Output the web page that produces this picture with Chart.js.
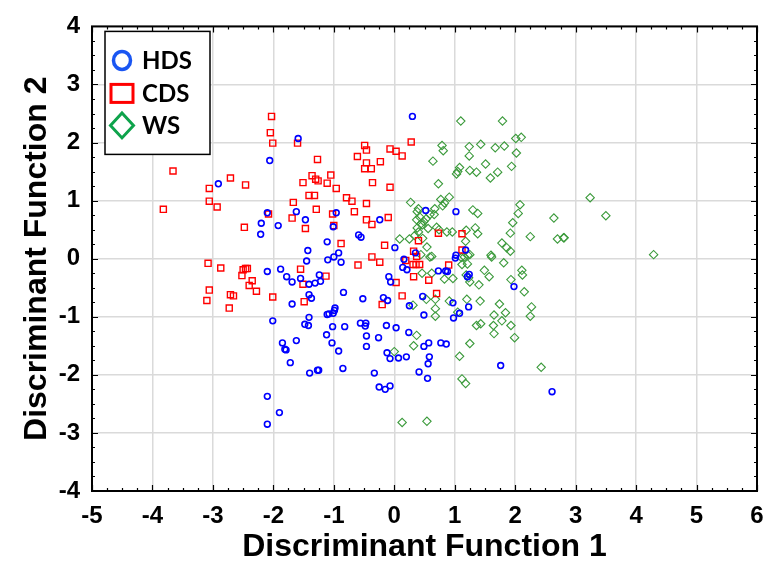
<!DOCTYPE html>
<html>
<head>
<meta charset="utf-8">
<script src="https://cdn.jsdelivr.net/npm/chart.js@4.4.1/dist/chart.umd.min.js"></script>
<style>
  body { margin: 0; background: #fff; }
  #wrap { width: 778px; height: 566px; }
</style>
</head>
<body>
<div id="wrap"><canvas id="chart" width="778" height="566"></canvas></div>
<script>
// discriminant scores, [function 1, function 2]
var hdsPoints = [
  [-1.59,2.07],[-2.06,1.69],[-2.91,1.29],[-2.10,0.79],[-2.20,0.61],[-2.21,0.42],[-1.92,0.57],[-1.62,0.81],
  [-1.47,0.67],[-1.11,0.29],[-1.43,0.14],[-1.45,-0.04],[-1.10,-0.02],[-2.10,-0.22],[-1.88,-0.18],[-1.78,-0.31],
  [-1.69,-0.40],[-1.55,-0.34],[-1.41,-0.44],[-1.31,-0.42],[-1.24,-0.28],[-1.22,-0.39],[-1.41,-0.62],[-1.37,-0.68],
  [-1.69,-0.78],[-1.11,-0.96],[-1.41,-1.01],[-2.01,-1.07],[-1.85,-1.45],[-1.81,-1.56],[-1.79,-1.57],[-1.62,-1.41],
  [-1.72,-1.79],[-1.48,-1.13],[-1.42,-1.15],[-0.84,-0.58],[-0.98,-0.85],[-0.99,-0.89],[-1.01,-0.94],[-1.08,-0.95],
  [-1.02,-1.17],[-0.82,-1.17],[-1.12,-1.31],[-1.03,-1.45],[-0.92,-1.59],[-1.40,-1.97],[-1.27,-1.92],[-1.25,-1.92],
  [-0.85,-1.89],[-2.10,-2.37],[-1.90,-2.65],[-2.10,-2.85],[-0.52,-0.69],[-0.56,-1.11],[-0.47,-1.11],[-0.48,-1.16],
  [-0.46,-1.33],[-0.46,-1.51],[-0.26,-1.36],[-0.13,-1.15],[0.03,-1.19],[-0.18,-0.67],[-0.11,-0.72],[-0.12,-1.62],
  [-0.07,-1.72],[0.07,-1.71],[0.20,-1.69],[-0.33,-1.97],[-0.25,-2.21],[-0.15,-2.25],[-0.07,-2.19],[0.24,-1.27],
  [0.49,-1.51],[0.57,-1.45],[0.77,-1.45],[0.86,-1.47],[0.58,-1.69],[0.56,-1.81],[0.41,-1.95],[0.55,-2.06],
  [0.25,-0.81],[0.49,-0.97],[0.47,-0.65],[0.30,2.45],[-1.01,0.55],[-0.96,0.79],[-0.24,0.67],[-1.00,0.03],
  [-0.92,0.10],[-0.88,-0.06],[-0.59,0.41],[-0.55,0.37],[0.01,0.19],[0.16,-0.01],[0.14,-0.15],[0.21,-0.19],
  [0.35,0.10],[0.52,0.83],[1.02,0.81],[1.02,0.06],[1.01,0.01],[1.18,0.15],[0.73,-0.21],[0.85,-0.21],
  [0.88,-0.22],[1.21,-0.31],[1.24,-0.27],[1.98,-0.48],[-0.09,-0.31],[-0.06,-0.40],[0.97,-0.76],[1.23,-0.83],
  [1.08,-0.94],[0.98,-1.02],[1.76,-1.84],[2.61,-2.29]
];
var cdsPoints = [
  [-2.03,2.45],[-2.05,2.17],[-2.01,1.99],[-1.60,1.99],[-1.27,1.71],[-3.66,1.51],[-2.71,1.39],[-3.06,1.21],
  [-2.46,1.27],[-3.06,0.99],[-2.93,0.89],[-3.82,0.85],[-1.67,0.97],[-1.36,1.43],[-1.30,1.37],[-1.26,1.34],
  [-1.11,1.30],[-1.51,1.31],[-1.41,1.09],[-1.32,1.09],[-1.29,0.85],[-2.08,0.77],[-1.69,0.70],[-1.47,0.52],
  [-2.48,0.54],[-3.08,-0.08],[-2.87,-0.16],[-2.50,-0.19],[-2.46,-0.17],[-2.43,-0.17],[-2.52,-0.29],[-2.35,-0.38],
  [-2.40,-0.46],[-2.28,-0.56],[-3.06,-0.54],[-3.10,-0.72],[-2.71,-0.62],[-2.66,-0.64],[-2.73,-0.85],[-2.01,-0.66],
  [-1.55,-0.18],[-1.51,-0.44],[-1.49,-0.74],[-1.13,-0.30],[-0.49,1.95],[-0.46,1.87],[-0.61,1.76],[-0.46,1.65],
  [-0.49,1.55],[-0.38,1.55],[-0.23,1.67],[-0.07,1.89],[0.03,1.85],[0.13,1.77],[0.28,2.01],[-1.05,1.44],
  [-0.96,1.21],[-0.79,1.05],[-0.70,0.99],[-0.36,1.31],[-0.07,1.23],[-0.46,0.95],[-0.66,0.81],[-1.02,0.77],
  [-1.00,0.57],[-0.46,0.67],[-0.37,0.59],[-0.10,0.71],[-0.88,0.26],[-0.16,0.23],[-0.37,0.03],[-0.24,-0.06],
  [-0.60,-0.11],[0.32,0.13],[0.40,0.31],[0.37,0.04],[0.31,-0.10],[0.36,-0.10],[0.42,-0.10],[0.19,-0.03],
  [0.73,0.44],[1.12,0.43],[1.12,0.15],[0.90,-0.11],[0.32,-0.31],[0.57,-0.37],[0.03,-0.41],[0.13,-0.64],
  [0.70,-0.60],[-0.20,-0.79]
];
var wsPoints = [
  [1.10,2.37],[1.79,2.37],[0.79,1.95],[0.81,1.86],[1.24,1.93],[1.24,1.77],[1.43,1.97],[1.67,1.91],
  [1.82,1.94],[2.01,2.07],[2.10,2.09],[2.02,1.82],[0.64,1.68],[1.51,1.63],[1.08,1.57],[1.05,1.50],
  [1.03,1.46],[1.25,1.52],[1.36,1.49],[1.71,1.49],[1.59,1.39],[1.94,1.59],[0.73,1.29],[0.77,1.02],
  [0.91,1.06],[0.80,0.91],[0.83,0.96],[0.67,0.86],[0.27,0.97],[0.38,0.81],[0.40,0.86],[1.30,0.84],
  [1.38,0.78],[2.08,0.93],[2.05,0.78],[1.96,0.62],[2.64,0.70],[3.24,1.05],[3.50,0.74],[0.53,0.69],
  [0.59,0.76],[0.49,0.64],[0.44,0.60],[0.40,0.46],[0.56,0.52],[0.70,0.54],[0.74,0.50],[0.87,0.46],
  [0.96,0.46],[1.19,0.49],[1.34,0.53],[1.38,0.43],[1.92,0.44],[0.09,0.34],[0.25,0.34],[0.47,0.35],
  [0.34,0.40],[0.54,0.20],[0.59,0.03],[0.44,0.07],[1.78,0.27],[1.86,0.19],[1.92,0.13],[2.25,0.38],
  [2.70,0.34],[2.80,0.36],[2.81,0.36],[1.18,0.30],[1.16,0.03],[1.22,0.06],[1.25,0.07],[1.11,0.02],
  [1.12,-0.10],[1.21,-0.09],[1.60,0.06],[1.61,0.03],[1.81,-0.07],[4.29,0.07],[0.46,-0.25],[0.62,-0.25],
  [0.83,-0.35],[0.97,-0.34],[1.49,-0.20],[1.57,-0.31],[1.19,-0.28],[1.25,-0.40],[1.23,-0.33],[1.40,-0.45],
  [1.93,-0.36],[2.11,-0.20],[2.12,-0.28],[2.15,-0.57],[2.27,-0.83],[1.74,-0.78],[1.42,-0.73],[1.20,-0.70],
  [0.91,-0.73],[0.68,-0.86],[0.42,0.72],[0.37,0.67],[0.66,0.76],[0.38,0.53],[0.46,0.58],[0.62,0.04],
  [2.25,-0.99],[1.99,-1.36],[2.43,-1.87],[1.93,-1.15],[1.78,-1.07],[1.65,-1.29],[1.64,-1.15],[1.36,-1.15],
  [1.43,-1.12],[1.65,-0.97],[1.84,-0.93],[1.25,-1.46],[1.08,-1.68],[1.12,-2.07],[1.18,-2.15],[0.37,-1.32],
  [0.32,-1.50],[0.00,-1.60],[0.13,-2.82],[0.54,-2.80],[0.68,-0.99],[1.05,-0.92],[0.68,-0.70],[0.53,-0.70],
  [0.31,-0.80]
];
var groupNames = ['HDS', 'CDS', 'WS'];
var xTitle = 'Discriminant Function 1';
var yTitle = 'Discriminant Function 2';

function toXY(list) {
  return list.map(function(p){ return {x: p[0], y: p[1]}; });
}

var tickFont = {family: 'Liberation Sans', weight: 'bold', size: 24};
var titleFont = {family: 'Liberation Sans', weight: 'bold', size: 32, lineHeight: 1};

// black frame with small inward ticks every 0.25 on all four sides
var framePlugin = {
  id: 'frame',
  afterDatasetsDraw: function(chart) {
    var ctx = chart.ctx, a = chart.chartArea,
      xs = chart.scales.x, ys = chart.scales.y, v, px, len;
    ctx.save();
    ctx.strokeStyle = '#000';
    ctx.lineWidth = 1.2;
    ctx.beginPath();
    for (v = -5; v <= 6.001; v += 0.25) {
      px = Math.round(xs.getPixelForValue(v)) + 0.5;
      len = Math.abs(v - Math.round(v)) < 0.01 ? 6 : 3;
      ctx.moveTo(px, a.bottom); ctx.lineTo(px, a.bottom - len);
      ctx.moveTo(px, a.top); ctx.lineTo(px, a.top + len);
    }
    for (v = -4; v <= 4.001; v += 0.25) {
      px = Math.round(ys.getPixelForValue(v)) + 0.5;
      len = Math.abs(v - Math.round(v)) < 0.01 ? 6 : 3;
      ctx.moveTo(a.left, px); ctx.lineTo(a.left + len, px);
      ctx.moveTo(a.right, px); ctx.lineTo(a.right - len, px);
    }
    ctx.stroke();
    ctx.lineWidth = 2;
    ctx.strokeRect(a.left, a.top, a.right - a.left, a.bottom - a.top);
    ctx.restore();
  }
};

// boxed legend in the top left corner of the plot
var legendPlugin = {
  id: 'boxLegend',
  afterDraw: function(chart) {
    var ctx = chart.ctx, a = chart.chartArea,
      bx = a.left + 13, by = a.top + 5, bw = 105, bh = 123,
      mx = bx + 17, tx = bx + 37, rows = [by + 29, by + 62, by + 94];
    ctx.save();
    ctx.fillStyle = '#fff';
    ctx.fillRect(bx, by, bw, bh);
    ctx.strokeStyle = '#000';
    ctx.lineWidth = 1.5;
    ctx.strokeRect(bx, by, bw, bh);

    ctx.lineWidth = 3.5;
    ctx.strokeStyle = '#1a56f2';
    ctx.beginPath();
    ctx.ellipse(mx, rows[0], 8.5, 9, 0, 0, Math.PI * 2);
    ctx.stroke();

    ctx.lineWidth = 3;
    ctx.strokeStyle = '#ff0000';
    ctx.strokeRect(mx - 11, rows[1] - 9, 22, 18);

    ctx.strokeStyle = '#0ea34b';
    ctx.beginPath();
    ctx.moveTo(mx, rows[2] - 12.5);
    ctx.lineTo(mx + 11.5, rows[2]);
    ctx.lineTo(mx, rows[2] + 12.5);
    ctx.lineTo(mx - 11.5, rows[2]);
    ctx.closePath();
    ctx.stroke();

    ctx.fillStyle = '#000';
    ctx.font = 'bold 24px Lato';
    ctx.textBaseline = 'middle';
    chart.data.datasets.forEach(function(ds, i){
      ctx.fillText(ds.label, tx, rows[i] + 1);
    });
    ctx.restore();
  }
};

new Chart(document.getElementById('chart').getContext('2d'), {
  type: 'scatter',
  data: {
    datasets: [
      {
        label: groupNames[0], data: toXY(hdsPoints), pointStyle: 'circle',
        pointRadius: 2.9, borderWidth: 1.6, borderColor: '#0000ff', backgroundColor: 'rgba(0,0,0,0)'
      },
      {
        label: groupNames[1], data: toXY(cdsPoints), pointStyle: 'rect',
        pointRadius: 4.3, borderWidth: 1.4, borderColor: '#ff0000', backgroundColor: 'rgba(0,0,0,0)'
      },
      {
        label: groupNames[2], data: toXY(wsPoints), pointStyle: 'rectRot',
        pointRadius: 4.2, borderWidth: 1.1, borderColor: '#3b9a3b', backgroundColor: 'rgba(0,0,0,0)'
      }
    ]
  },
  options: {
    responsive: false,
    devicePixelRatio: 1,
    animation: false,
    layout: {padding: {top: 24, right: 21, left: 0, bottom: 0}},
    plugins: {legend: {display: false}, tooltip: {enabled: false}},
    scales: {
      x: {
        type: 'linear', min: -5, max: 6,
        ticks: {stepSize: 1, font: tickFont, color: '#000', padding: 11},
        grid: {color: '#dadada', lineWidth: 1.5, drawTicks: false},
        border: {display: false},
        title: {display: true, text: xTitle, font: titleFont, color: '#000', padding: {top: 0, bottom: 3}},
        afterFit: function(s){ s.height = 75; }
      },
      y: {
        type: 'linear', min: -4, max: 4,
        ticks: {stepSize: 1, font: tickFont, color: '#000', padding: 12},
        grid: {color: '#dadada', lineWidth: 1.5, drawTicks: false},
        border: {display: false},
        title: {display: true, text: yTitle, font: titleFont, color: '#000', padding: {top: 21, bottom: 0}},
        afterFit: function(s){ s.width = 92; }
      }
    }
  },
  plugins: [framePlugin, legendPlugin]
});
</script>
</body>
</html>
